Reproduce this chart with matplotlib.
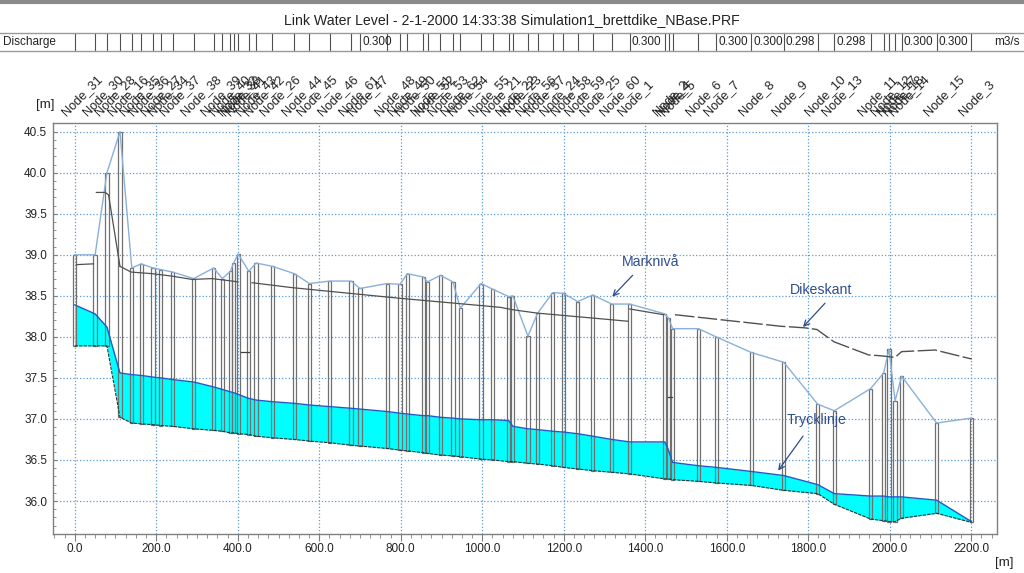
import matplotlib
matplotlib.use("Agg")
import matplotlib.pyplot as plt
import matplotlib.transforms as mtransforms
from matplotlib.lines import Line2D
from matplotlib.ticker import MultipleLocator, FormatStrFormatter

node_names = ["Node_31", "Node_30", "Node_28", "Node_16", "Node_35", "Node_36", "Node_27",
              "Node_34", "Node_37", "Node_38", "Node_39", "Node_40", "Node_32", "Node_33",
              "Node_41", "Node_43", "Node_42", "Node_26", "Node_44", "Node_45", "Node_46",
              "Node_61", "Node_47", "Node_48", "Node_49", "Node_50", "Node_51", "Node_52",
              "Node_53", "Node_62", "Node_54", "Node_55", "Node_21", "Node_22", "Node_23",
              "Node_56", "Node_57", "Node_24", "Node_58", "Node_59", "Node_25", "Node_60",
              "Node_1", "Node_2", "Node_4", "Node_5", "Node_6", "Node_7", "Node_8", "Node_9",
              "Node_10", "Node_13", "Node_11", "Node_12", "Node_17", "Node_18", "Node_14",
              "Node_15", "Node_3"]

node_x = [0, 50, 79, 111, 140, 163, 192, 211, 240, 292, 341, 362, 382, 390, 401, 427, 445,
          485, 539, 576, 626, 678, 700, 767, 798, 816, 855, 866, 897, 928, 946, 997, 1026,
          1065, 1075, 1112, 1136, 1173, 1199, 1234, 1271, 1318, 1362, 1448, 1457, 1467,
          1530, 1574, 1660, 1740, 1823, 1864, 1953, 1985, 1998, 2013, 2029, 2115, 2200]

# Marknivå (tapa de pozo)
ground = [39.00, 39.00, 40.00, 40.50, 38.84, 38.89, 38.84, 38.82, 38.79, 38.71, 38.84, 38.71,
          38.80, 38.90, 39.01, 38.80, 38.90, 38.86, 38.77, 38.65, 38.68, 38.68, 38.59, 38.65,
          38.64, 38.77, 38.73, 38.67, 38.75, 38.67, 38.35, 38.65, 38.58, 38.49, 38.50, 38.01,
          38.29, 38.54, 38.53, 38.43, 38.51, 38.40, 38.40, 38.28, 38.23, 38.10, 38.10, 38.00,
          37.81, 37.69, 37.18, 37.10, 37.37, 37.56, 37.85, 37.22, 37.52, 36.95, 37.01]

# fondo (invert)
invert = [37.89, 37.89, 37.89, 37.02, 36.95, 36.94, 36.93, 36.92, 36.91, 36.88, 36.86, 36.85,
          36.83, 36.83, 36.82, 36.81, 36.79, 36.77, 36.75, 36.73, 36.71, 36.68, 36.67, 36.64,
          36.62, 36.61, 36.59, 36.58, 36.56, 36.55, 36.54, 36.51, 36.50, 36.48, 36.48, 36.46,
          36.45, 36.43, 36.41, 36.39, 36.37, 36.35, 36.33, 36.27, 36.27, 36.26, 36.24, 36.22,
          36.19, 36.13, 36.09, 35.96, 35.78, 35.76, 35.75, 35.75, 35.79, 35.85, 35.74]

# Trycklinje (nivel de agua)
water = [38.39, 38.28, 38.12, 37.56, 37.54, 37.53, 37.51, 37.50, 37.48, 37.45, 37.39, 37.36,
         37.33, 37.32, 37.30, 37.25, 37.23, 37.21, 37.19, 37.17, 37.15, 37.13, 37.12, 37.09,
         37.07, 37.06, 37.04, 37.04, 37.02, 37.01, 37.00, 36.99, 36.99, 36.98, 36.91, 36.88,
         36.87, 36.85, 36.84, 36.82, 36.79, 36.75, 36.72, 36.72, 36.62, 36.47, 36.43, 36.41,
         36.36, 36.31, 36.20, 36.09, 36.06, 36.06, 36.05, 36.05, 36.05, 36.01, 35.75]

# Dikeskant
dike_solid = [
    ([4, 46], [38.88, 38.89]),
    ([53, 75, 83, 111], [39.76, 39.76, 39.73, 38.86]),
    ([111, 138, 190, 239, 288, 337, 386, 400], [38.86, 38.79, 38.77, 38.74, 38.70, 38.71, 38.68, 38.67]),
    ([435, 533, 798, 1000, 1044, 1076, 1134, 1314, 1358],
     [38.66, 38.60, 38.47, 38.38, 38.36, 38.33, 38.29, 38.21, 38.19]),
    ([1362, 1445], [38.34, 38.27]),
]
dike_dash_x = [1473, 1731, 1792, 1821, 1863, 1948, 1977, 2013, 2029, 2111, 2201]
dike_dash_y = [38.27, 38.13, 38.11, 38.09, 37.94, 37.78, 37.77, 37.75, 37.82, 37.84, 37.73]

# tramos cortos sueltos
stub_x0 = [407, 1455]
stub_x1 = [427, 1465]
stub_y = [37.81, 37.27]

# caudal: índice de tubería (entre nodo i e i+1) y valor mostrado
q_pipe = [22, 42, 47, 48, 49, 51, 56, 57]
q_vals = ["0.300", "0.300", "0.300", "0.300", "0.298", "0.298", "0.300", "0.300"]

# etiquetas: texto, posición del texto, cola y punta de la flecha
ann_text = ["Marknivå", "Dikeskant", "Trycklinje"]
ann_pos = [(1412, 38.91), (1832, 38.57), (1821, 36.99)]
ann_tail = [(1369, 38.75), (1841, 38.41), (1787, 36.79)]
ann_head = [(1319, 38.49), (1787, 38.12), (1726, 36.37)]

TITLE = "Link Water Level - 2-1-2000 14:33:38 Simulation1_brettdike_NBase.PRF"

# ======== ESTILO ========
REGULAR = ["Liberation Sans", "DejaVu Sans"]
plt.rcParams["font.family"] = REGULAR
TXT = "#222222"
GRID = "#5b9bd5"
ANN = "#2f4d8c"

fig = plt.figure(figsize=(10.24, 5.73), dpi=100)
ax = fig.add_axes([0.0515, 0.0675, 0.9221, 0.7184])

ax.set_xlim(-54, 2263)
ax.set_ylim(35.594, 40.61)

# agua
ax.fill_between(node_x, invert, water, color="#00ffff", lw=0, zorder=2)
ax.plot(node_x, water, color="#1f5cc4", lw=1.0, zorder=4)
ax.plot(node_x, invert, color="#303030", lw=0.8, ls=(0, (3, 1)), zorder=4)

# pozos
heights = [g - b for g, b in zip(ground, invert)]
ax.bar(node_x, heights, bottom=invert, width=8, fill=False, edgecolor="#707070",
       lw=0.9, zorder=3)

# terreno
ax.plot(node_x, ground, color="#8ab0da", lw=1.0, zorder=4)

# dikeskant
for xs, ys in dike_solid:
    ax.plot(xs, ys, color="#505050", lw=0.9, zorder=4)
ax.plot(dike_dash_x, dike_dash_y, color="#505050", lw=1.0, ls=(0, (14, 2.5)), zorder=4)
for a, b, y in zip(stub_x0, stub_x1, stub_y):
    ax.plot([a, b], [y, y], color="#404040", lw=0.9, zorder=4)

# ejes
ax.xaxis.set_major_locator(MultipleLocator(200))
ax.xaxis.set_minor_locator(MultipleLocator(25))
ax.yaxis.set_major_locator(MultipleLocator(0.5))
ax.yaxis.set_minor_locator(MultipleLocator(0.1))
ax.xaxis.set_major_formatter(FormatStrFormatter("%.1f"))
ax.yaxis.set_major_formatter(FormatStrFormatter("%.1f"))
ax.tick_params(axis="x", which="major", direction="out", length=5, color="#808080",
               labelsize=8.5, labelcolor=TXT, pad=1.5)
ax.tick_params(axis="x", which="minor", direction="out", length=3, color="#808080")
ax.tick_params(axis="y", which="major", direction="in", length=3, color="#808080",
               labelsize=8.5, labelcolor=TXT, pad=4)
ax.tick_params(axis="y", which="minor", direction="in", length=2, color="#808080")
ax.set_xticks([t for t in range(0, 2201, 200)])
ax.grid(True, which="major", color=GRID, ls=":", lw=0.9, zorder=1)
for s in ax.spines.values():
    s.set_color("#808080")
    s.set_linewidth(1.0)

# anotaciones
for t, p, a, b in zip(ann_text, ann_pos, ann_tail, ann_head):
    ax.text(p[0], p[1], t, ha="center", va="center", color=ANN, fontsize=10.2, zorder=6)
    ax.annotate("", xy=b, xytext=a,
                arrowprops=dict(arrowstyle="->", color=ANN, lw=0.9,
                                shrinkA=0, shrinkB=0), zorder=6)

# ======== CABECERA ========
blend = mtransforms.blended_transform_factory(ax.transData, fig.transFigure)

for name, x in zip(node_names, node_x):
    ax.annotate(name, xy=(x, 0.797), xycoords=blend, xytext=(-6, 0),
                textcoords="offset points", rotation=45, rotation_mode="anchor",
                ha="left", va="baseline", fontsize=9.2, color=TXT,
                annotation_clip=False)

fig.text(0.044, 0.817, "[m]", ha="center", va="center", fontsize=9.5, color=TXT)
fig.text(0.981, 0.0175, "[m]", ha="center", va="center", fontsize=9.5, color=TXT)

fig.text(0.5, 0.965, TITLE, ha="center", va="center", fontsize=10.2, color=TXT)

# fila de caudal
row_top, row_bot = 0.9424, 0.911
fig.add_artist(Line2D([0, 1], [0.997, 0.997], color="#8a8a8a", lw=3))
fig.add_artist(Line2D([0, 1], [row_top, row_top], color="#9a9a9a", lw=1))
fig.add_artist(Line2D([0, 1], [row_bot, row_bot], color="#9a9a9a", lw=1))
for x in node_x:
    ax.add_line(Line2D([x, x], [row_bot, row_top], transform=blend, color="#505050",
                       lw=0.8, clip_on=False))
fig.text(0.003, (row_top + row_bot) / 2, "Discharge", ha="left", va="center",
         fontsize=8.5, color=TXT)
fig.text(0.996, (row_top + row_bot) / 2, "m3/s", ha="right", va="center",
         fontsize=8.5, color=TXT)
for i, v in zip(q_pipe, q_vals):
    ax.annotate(v, xy=(node_x[i], (row_top + row_bot) / 2), xycoords=blend,
                xytext=(1.5, 0), textcoords="offset points", ha="left", va="center",
                fontsize=8.5, color=TXT, annotation_clip=False)

fig.savefig("out.png", dpi=100)
